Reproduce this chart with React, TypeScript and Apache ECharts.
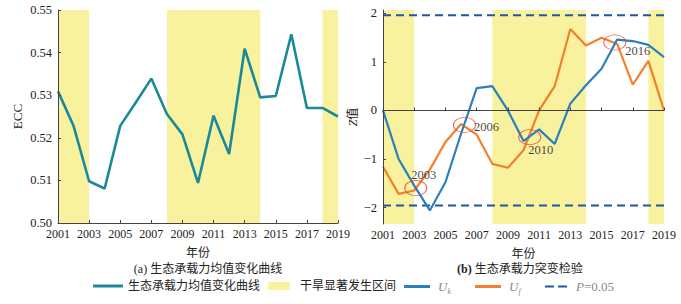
import React, { useEffect, useRef } from 'react';
import * as echarts from 'echarts';

const years = [2001, 2002, 2003, 2004, 2005, 2006, 2007, 2008, 2009, 2010, 2011, 2012, 2013, 2014, 2015, 2016, 2017, 2018, 2019];
const eccValues = [0.5309, 0.5228, 0.5098, 0.5081, 0.5228, 0.5283, 0.5339, 0.5256, 0.5208, 0.5094, 0.5252, 0.5162, 0.5409, 0.5295, 0.5298, 0.5443, 0.527, 0.527, 0.525];
const ukValues = [0, -1.0, -1.55, -2.06, -1.48, -0.48, 0.46, 0.5, 0.0, -0.63, -0.39, -0.69, 0.14, 0.52, 0.86, 1.46, 1.43, 1.35, 1.1];
const ufValues = [-1.16, -1.72, -1.65, -1.22, -0.65, -0.28, -0.5, -1.1, -1.18, -0.82, 0.0, 0.5, 1.68, 1.34, 1.5, 1.37, 0.53, 1.02, 0.0];
const droughtRanges = [[2001, 2003], [2008, 2014], [2018, 2019]];
const criticalValue = 1.96;
const changePoints = [[2003.1, -1.6], [2006.22, -0.3], [2010.4, -0.55], [2015.85, 1.4]];
const changeLabels = ['2003', '2006', '2010', '2016'];
const xTickYears = [2001, 2003, 2005, 2007, 2009, 2011, 2013, 2015, 2017, 2019];
const eccTicks = [0.5, 0.51, 0.52, 0.53, 0.54, 0.55];
const zTicks = [-2, -1, 0, 1, 2];

const ECC_NAME = '生态承载力均值变化曲线';
const DROUGHT_NAME = '干旱显著发生区间';
const UK_NAME = 'Uk';
const UF_NAME = 'Uf';
const P_NAME = 'P=0.05';

const SERIF = '"Liberation Serif", "Times New Roman", serif';
const CJK = '"Liberation Serif", "Noto Sans CJK SC", serif';
const TEAL = '#1a8a9b';
const YELLOW = '#f8f19e';
const BLUE = '#2a7fbf';
const ORANGE = '#f57f2a';
const DASH = '#2156a5';
const AXIS = '#444';

const labelOffsets = [[8, -13], [22, 2], [11, 13], [23, 8]];

function buildOption() {
  const axisCommon = {
    axisLine: { show: true, lineStyle: { color: AXIS, width: 1 } },
    axisTick: { show: true, inside: true, length: 3, lineStyle: { color: AXIS } },
    splitLine: { show: false },
    z: 5,
  };
  const xAxisFor = (gridIndex: number) => ({
    ...axisCommon,
    type: 'value',
    gridIndex,
    min: 2001,
    max: 2019,
    axisTick: { ...axisCommon.axisTick, customValues: xTickYears },
    axisLabel: {
      customValues: xTickYears,
      fontFamily: SERIF,
      fontSize: 12,
      color: '#222',
      margin: 5,
      formatter: (v: number) => String(v),
    },
    name: '年份',
    nameLocation: 'middle',
    nameGap: 24,
    nameTextStyle: { fontFamily: CJK, fontSize: 12, color: '#222' },
  });
  const markAreaData = droughtRanges.map(([a, b]) => [{ xAxis: a }, { xAxis: b }]);
  const rich = {
    i: { fontFamily: SERIF, fontStyle: 'italic', fontSize: 13, color: '#888' },
    s: { fontFamily: SERIF, fontStyle: 'italic', fontSize: 8, color: '#888', padding: [9, 0, 0, 0] },
  };
  const legendBase = {
    top: 280,
    padding: 0,
    itemHeight: 3,
    selectedMode: false,
    textStyle: { fontFamily: CJK, fontSize: 12, color: '#222', rich },
  };
  return {
    animation: false,
    grid: [
      { left: 58, top: 10, width: 280, height: 213 },
      { left: 383, top: 10, width: 281, height: 214 },
    ],
    xAxis: [xAxisFor(0), xAxisFor(1)],
    yAxis: [
      {
        ...axisCommon,
        type: 'value',
        gridIndex: 0,
        min: 0.5,
        max: 0.55,
        axisTick: { ...axisCommon.axisTick, customValues: eccTicks },
        axisLabel: {
          customValues: eccTicks,
          fontFamily: SERIF,
          fontSize: 12.5,
          color: '#222',
          margin: 6,
          formatter: (v: number) => v.toFixed(2),
        },
        name: 'ECC',
        nameLocation: 'middle',
        nameGap: 34,
        nameTextStyle: { fontFamily: SERIF, fontSize: 13, color: '#222' },
      },
      {
        ...axisCommon,
        type: 'value',
        gridIndex: 1,
        min: -2.34,
        max: 2.07,
        axisTick: { ...axisCommon.axisTick, customValues: zTicks },
        axisLabel: {
          customValues: zTicks,
          fontFamily: SERIF,
          fontSize: 12.5,
          color: '#222',
          margin: 6,
          formatter: (v: number) => (v < 0 ? '\u2212' + Math.abs(v) : String(v)),
        },
        name: '{z|Z}值',
        nameLocation: 'middle',
        nameGap: 24,
        nameTextStyle: {
          fontFamily: CJK,
          fontSize: 12,
          color: '#222',
          rich: { z: { fontFamily: SERIF, fontStyle: 'italic', fontSize: 12, color: '#222' } },
        },
      },
    ],
    legend: [
      { ...legendBase, left: 93, itemWidth: 30, data: [{ name: ECC_NAME, icon: 'rect' }] },
      {
        ...legendBase,
        left: 268,
        itemWidth: 22,
        itemHeight: 8,
        data: [{ name: DROUGHT_NAME, icon: 'rect' }],
        textStyle: { ...legendBase.textStyle, padding: [0, 0, 0, 5] },
      },
      {
        ...legendBase,
        left: 404,
        itemWidth: 26,
        data: [{ name: UK_NAME, icon: 'rect' }],
        formatter: () => '{i|U}{s|k}',
        textStyle: { ...legendBase.textStyle, padding: [0, 0, 0, 3] },
      },
      {
        ...legendBase,
        left: 475,
        itemWidth: 26,
        data: [{ name: UF_NAME, icon: 'rect' }],
        formatter: () => '{i|U}{s|f}',
        textStyle: { ...legendBase.textStyle, padding: [0, 0, 0, 3] },
      },
      {
        ...legendBase,
        left: 545,
        itemWidth: 22,
        data: [{ name: P_NAME, icon: 'path://M0,0h9v2h-9z M13,0h9v2h-9z' }],
        formatter: () => '{i|P}{n|=0.05}',
        textStyle: {
          ...legendBase.textStyle,
          padding: [0, 0, 0, 4],
          rich: { ...rich, n: { fontFamily: SERIF, fontSize: 13, color: '#888' } },
        },
      },
    ],
    graphic: [
      {
        type: 'text',
        x: 208,
        y: 269,
        style: {
          text: '(a) 生态承载力均值变化曲线',
          align: 'center',
          verticalAlign: 'middle',
          fontFamily: CJK,
          fontSize: 12,
          fill: '#222',
        },
      },
      {
        type: 'text',
        x: 457,
        y: 269,
        style: {
          text: '{b|(b)} 生态承载力突变检验',
          align: 'left',
          verticalAlign: 'middle',
          fontFamily: CJK,
          fontSize: 12,
          fill: '#222',
          rich: { b: { fontFamily: SERIF, fontWeight: 'bold', fontSize: 12, color: '#222' } },
        },
      },
    ],
    series: [
      {
        name: DROUGHT_NAME,
        type: 'line',
        xAxisIndex: 0,
        yAxisIndex: 0,
        data: [],
        color: YELLOW,
        itemStyle: { color: YELLOW },
        markArea: { silent: true, itemStyle: { color: YELLOW }, data: markAreaData },
      },
      {
        name: DROUGHT_NAME,
        type: 'line',
        xAxisIndex: 1,
        yAxisIndex: 1,
        data: [],
        color: YELLOW,
        itemStyle: { color: YELLOW },
        markArea: { silent: true, itemStyle: { color: YELLOW }, data: markAreaData },
      },
      {
        name: ECC_NAME,
        type: 'line',
        xAxisIndex: 0,
        yAxisIndex: 0,
        data: years.map((y, i) => [y, eccValues[i]]),
        showSymbol: false,
        symbol: 'none',
        color: TEAL,
        lineStyle: { color: TEAL, width: 2.6 },
        z: 3,
      },
      {
        name: P_NAME,
        type: 'line',
        xAxisIndex: 1,
        yAxisIndex: 1,
        data: [[2001, criticalValue], [2019, criticalValue]],
        symbol: 'none',
        color: DASH,
        lineStyle: { color: DASH, width: 2, type: [8, 5] },
        z: 3,
      },
      {
        name: P_NAME,
        type: 'line',
        xAxisIndex: 1,
        yAxisIndex: 1,
        data: [[2001, -criticalValue], [2019, -criticalValue]],
        symbol: 'none',
        color: DASH,
        lineStyle: { color: DASH, width: 2, type: [8, 5] },
        z: 3,
      },
      {
        name: UF_NAME,
        type: 'line',
        xAxisIndex: 1,
        yAxisIndex: 1,
        data: years.map((y, i) => [y, ufValues[i]]),
        symbol: 'none',
        color: ORANGE,
        lineStyle: { color: ORANGE, width: 2.2 },
        z: 3,
      },
      {
        name: UK_NAME,
        type: 'line',
        xAxisIndex: 1,
        yAxisIndex: 1,
        data: years.map((y, i) => [y, ukValues[i]]),
        symbol: 'none',
        color: BLUE,
        lineStyle: { color: BLUE, width: 2.2 },
        z: 4,
      },
      {
        name: 'change',
        type: 'scatter',
        xAxisIndex: 1,
        yAxisIndex: 1,
        symbol: 'circle',
        symbolSize: [22, 15],
        itemStyle: { color: 'rgba(0,0,0,0)', borderColor: '#e8453f', borderWidth: 1 },
        data: changePoints.map((p, i) => ({
          value: p,
          label: {
            show: true,
            position: 'inside',
            offset: labelOffsets[i],
            formatter: changeLabels[i],
            fontFamily: SERIF,
            fontSize: 12.5,
            color: '#111',
          },
        })),
        z: 6,
      },
    ],
  };
}

export default function App() {
  const ref = useRef<HTMLDivElement>(null);
  useEffect(() => {
    if (!ref.current) return;
    const chart = echarts.init(ref.current, null, { renderer: 'svg' });
    chart.setOption(buildOption() as any);
    return () => chart.dispose();
  }, []);
  return <div ref={ref} style={{ width: 681, height: 304, position: 'absolute', left: 0, top: 0, background: '#fff' }} />;
}
